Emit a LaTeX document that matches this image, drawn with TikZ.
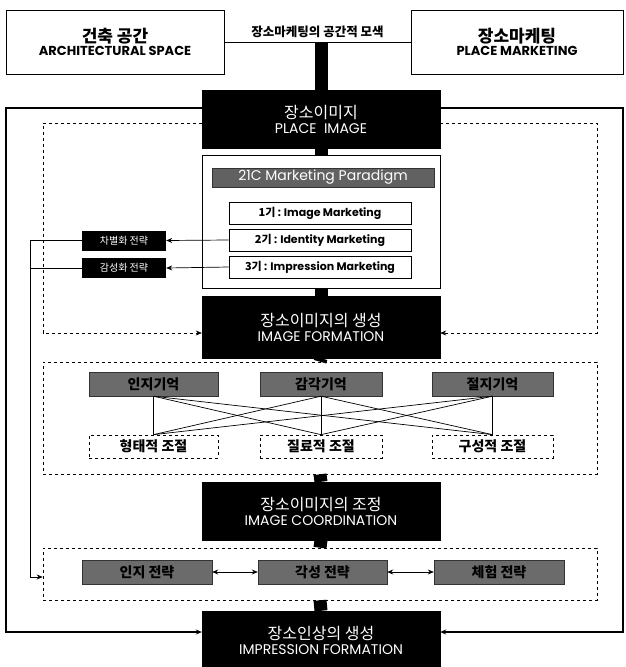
\documentclass[tikz,border=0pt]{standalone}
\usepackage{fontspec}
\setmainfont{Poppins}
\newfontfamily\kr{Noto Sans CJK KR}
\usetikzlibrary{arrows.meta,positioning,calc}

\begin{document}
\begin{tikzpicture}[
    x=1pt, y=-1pt,
    >={Stealth[length=6pt,width=5pt]},
    topbox/.style={
        draw=black,
        line width=0.9pt,
        minimum height=64pt,
        inner sep=0pt,
        align=center
    },
    blackbox/.style={
        fill=black,
        draw=black,
        text=white,
        minimum width=238pt,
        minimum height=58pt,
        inner sep=0pt,
        align=center
    },
    genbox/.style={
        draw=black,
        line width=0.7pt,
        fill=white,
        minimum width=182pt,
        minimum height=22pt,
        inner sep=0pt,
        font=\fontsize{11}{13}\selectfont\bfseries
    },
    tagbox/.style={
        fill=black,
        text=white,
        minimum width=84pt,
        minimum height=20pt,
        inner sep=0pt,
        font=\kr\fontsize{10}{12}\selectfont
    },
    graybox/.style={
        fill=black!58,
        draw=black!80,
        minimum height=24pt,
        inner sep=0pt,
        font=\kr\fontsize{14}{16}\selectfont\bfseries
    },
    ctrlbox/.style={
        draw=black,
        dashed,
        line width=0.7pt,
        minimum height=23pt,
        inner sep=0pt,
        font=\kr\fontsize{14}{16}\selectfont\bfseries
    },
    groupbox/.style={
        draw=black,
        dashed,
        line width=0.6pt,
        minimum width=554pt,
        inner sep=0pt
    },
    stem/.style={
        line width=13pt,
        draw=black
    },
    frame/.style={
        draw=black,
        line width=1.1pt
    },
    dframe/.style={
        draw=black,
        dashed,
        line width=0.6pt
    },
    conn/.style={
        draw=black,
        line width=0.7pt
    }
]
\useasboundingbox (0,0) rectangle (626,667);

% top row
\node[topbox, minimum width=218pt] (arch) at (115,42)
    {{\kr\fontsize{17}{21}\selectfont\bfseries 건축 공간}\\[1pt]
     {\fontsize{13}{15}\selectfont\bfseries ARCHITECTURAL SPACE}};
\node[topbox, minimum width=212pt] (pmkt) at (517,42)
    {{\kr\fontsize{17}{21}\selectfont\bfseries 장소마케팅}\\[1pt]
     {\fontsize{13}{15}\selectfont\bfseries PLACE MARKETING}};
\draw[conn] (arch.east) -- (pmkt.west)
    node[midway, above=1pt, font=\kr\fontsize{12.5}{14}\selectfont\bfseries] (search) {장소마케팅의 공간적 모색};
\coordinate (top) at (321,42);

% main column
\node[blackbox] (pimg) at (321,119)
    {{\kr\fontsize{16}{19}\selectfont 장소이미지}\\[3pt]
     {\fontsize{14}{16}\selectfont PLACE\ \ IMAGE}};
\node[draw=black, line width=0.8pt, fill=white, minimum width=238pt, minimum height=133pt] (pframe) at (321,221.5) {};
\node[fill=black!62, draw=black!80, text=white, minimum width=222pt, minimum height=19pt, inner sep=0pt,
    font=\fontsize{14}{16}\selectfont] (p21) at (323,177.5) {21C Marketing Paradigm};
\node[genbox] (g1) at (320,213) {{\kr 1기} : Image Marketing};
\node[genbox] (g2) at (320,240) {{\kr 2기} : Identity Marketing};
\node[genbox] (g3) at (320,267) {{\kr 3기} : Impression Marketing};

\node[tagbox] (diff) at (124,240.5) {차별화 전략};
\node[tagbox] (emo) at (124,268) {감성화 전략};

\node[blackbox, minimum height=62pt] (iform) at (321,327)
    {{\kr\fontsize{16}{19}\selectfont 장소이미지의 생성}\\[3pt]
     {\fontsize{14}{16}\selectfont IMAGE FORMATION}};

\node[groupbox, minimum height=112pt] (mem) at (320,418) {};
\node[graybox, minimum width=129pt] (m1) at (153.5,384) {인지기억};
\node[graybox, minimum width=122pt] (m2) at (321,384) {감각기억};
\node[graybox, minimum width=121pt] (m3) at (492.5,384) {절지기억};
\node[ctrlbox, minimum width=129pt] (c1) at (153.5,446.5) {형태적 조절};
\node[ctrlbox, minimum width=122pt] (c2) at (321,446.5) {질료적 조절};
\node[ctrlbox, minimum width=121pt] (c3) at (492.5,446.5) {구성적 조절};

\node[blackbox] (icoord) at (321,511)
    {{\kr\fontsize{16}{19}\selectfont 장소이미지의 조정}\\[3pt]
     {\fontsize{14}{16}\selectfont IMAGE COORDINATION}};

\node[groupbox, minimum height=52pt] (strat) at (320,574) {};
\node[graybox, minimum width=130pt] (s1) at (147,572) {인지 전략};
\node[graybox, minimum width=129pt] (s2) at (322.5,572) {각성 전략};
\node[graybox, minimum width=130pt] (s3) at (499,572) {체험 전략};

\node[blackbox, minimum height=58pt] (impr) at (321,640)
    {{\kr\fontsize{16}{19}\selectfont 장소인상의 생성}\\[3pt]
     {\fontsize{14}{16}\selectfont IMPRESSION FORMATION}};

% stems of the main column
\draw[stem] (top) -- (pimg.north);
\foreach \a/\b in {pimg/pframe,pframe/iform,iform/mem,mem/icoord,icoord/strat,strat/impr}
    \draw[stem] (\a.south) -- (\b.north);

% outer feedback frame
\draw[frame,->] (pimg.west |- 0,108) -- (6,108) -- (6,632) -- (impr.west |- 0,632);
\draw[frame,->] (pimg.east |- 0,108) -- (623,108) -- (623,632) -- (impr.east |- 0,632);

% dashed frame round the paradigm
\draw[dframe,->] (pimg.west |- 0,123) -- (43,123) -- (43,333) -- (iform.west |- 0,333);
\draw[dframe,->] (pimg.east |- 0,123) -- (597,123) -- (597,333) -- (iform.east |- 0,333);

% strategies from the paradigm
\draw[conn,->] (g2.west) -- (diff.east);
\draw[conn,->] (g3.west) -- (emo.east);
\coordinate (lbend) at (30,577);
\draw[conn,->] (diff.west) -| (lbend) -- (lbend -| strat.west);
\draw[conn] (emo.west) -- (emo.west -| lbend);

% memory to coordination links
\foreach \a in {m1,m2,m3}
    \foreach \b in {c1,c2,c3}
        \draw[conn] (\a.south) -- (\b.north);

\draw[conn,<->] (s1.east) -- (s2.west);
\draw[conn,<->] (s2.east) -- (s3.west);

\end{tikzpicture}
\end{document}
